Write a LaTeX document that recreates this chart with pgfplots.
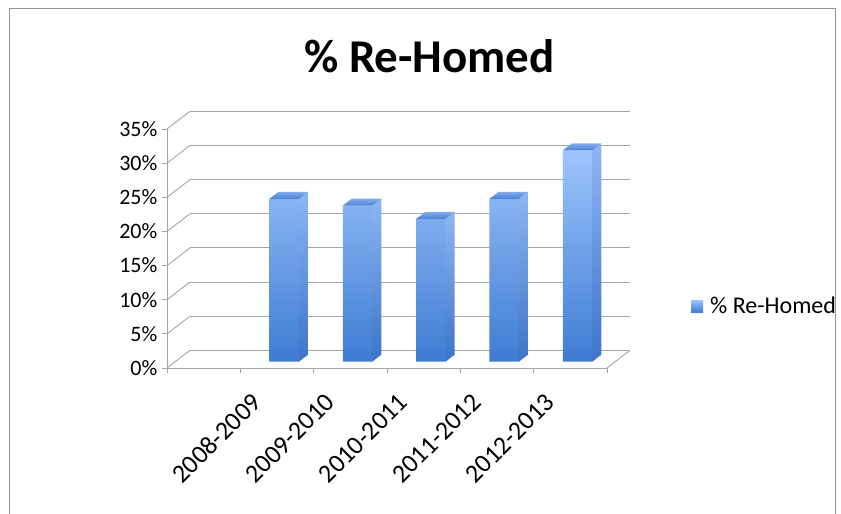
\documentclass[border=0pt]{standalone}
\usepackage{pgfplots}
\pgfplotsset{compat=1.18}
\usepackage{fontspec}
\setmainfont{Carlito}
\definecolor{gridgray}{RGB}{165,165,165}
\definecolor{barlight}{RGB}{157,196,252}
\definecolor{bardark}{RGB}{62,124,210}
\definecolor{sidelight}{RGB}{142,182,242}
\definecolor{sidedark}{RGB}{60,116,200}
\definecolor{toplight}{RGB}{130,172,238}
\definecolor{topdark}{RGB}{74,128,212}
\begin{document}
\begin{tikzpicture}
\useasboundingbox (0pt,0pt) rectangle (841pt,514pt);
\draw[gray!85, line width=1pt] (9pt,0pt) -- (9pt,505pt) -- (835pt,505pt) -- (835pt,0pt);
\node[anchor=base, font=\bfseries\fontsize{47}{47}\selectfont] at (429.5pt,441pt) {\% Re-Homed};

% back wall
\begin{axis}[at={(190pt,163.7pt)}, anchor=south west, scale only axis,
  width=440pt, height=239pt, xmin=0, xmax=6, ymin=0, ymax=35,
  axis line style={draw=none}, xtick=\empty, ytick={0,5,...,35}, yticklabels={},
  major tick length=0pt, ymajorgrids, grid style={gridgray, line width=0.9pt}]
\end{axis}

% front plane
\begin{axis}[at={(167pt,146pt)}, anchor=south west, scale only axis,
  width=440pt, height=239pt, xmin=0, xmax=6, ymin=0, ymax=35,
  axis lines*=left, axis line style={draw=gridgray, line width=0.9pt},
  tick style={gridgray, line width=0.9pt}, tick align=outside,
  major tick length=5.5pt,
  ytick={0,5,...,35},
  yticklabel={\pgfmathprintnumber{\tick}\%},
  yticklabel style={font=\fontsize{22}{22}\selectfont, inner sep=0pt, xshift=-4pt},
  /pgf/number format/assume math mode=true,
  xtick={0,...,6}, xticklabels={},
  extra x ticks={0.5,1.5,2.5,3.5,4.5},
  extra x tick labels={2008-2009,2009-2010,2010-2011,2011-2012,2012-2013},
  extra x tick style={major tick length=0pt,
    xticklabel style={font=\fontsize{26}{26}\selectfont, inner sep=0pt,
      xshift=53pt, yshift=-30pt, rotate=45, anchor=east}},
  clip=false]
\pgfplotsinvokeforeach{0,5,...,35}{\draw[gridgray, line width=0.9pt] (axis cs:0,#1) -- ++(23pt,17.7pt);}
\draw[gridgray, line width=0.9pt] (axis cs:6,0) -- ++(23pt,17.7pt);
\end{axis}

% bars plane
\begin{axis}[at={(175.2pt,152.3pt)}, anchor=south west, scale only axis,
  width=440pt, height=239pt, xmin=0, xmax=6, ymin=0, ymax=35,
  hide axis, clip=false,
  legend style={at={(1.1655,0.233)}, anchor=west, draw=none, fill=none,
    font=\fontsize{24}{24}\selectfont, legend cell align=left}]
\addplot[ybar, bar width=29.5pt, bar shift=-1pt, draw=none,
  top color=barlight, bottom color=bardark,
  legend image code/.code={\shade[draw=none, top color=barlight,bottom color=bardark] (0pt,-6pt) rectangle (12pt,6pt);}]
  coordinates {(1.5,23.85) (2.5,22.86) (3.5,20.9) (4.5,23.85) (5.5,30.94)};
\addlegendentry{\hspace{5pt}\% Re-Homed}
\addplot[forget plot, only marks, scatter, mark=*, mark size=0pt,
  mark options={draw=none, fill=none},
  visualization depends on={rawy \as \barv},
  scatter/@pre marker code/.code={%
    \pgfmathsetmacro{\hh}{\barv*239/35}%
    \shade[draw=none, top color=sidelight, bottom color=sidedark] (13.75pt,0pt) -- (13.75pt,-\hh pt) -- (22.75pt,-\hh pt+7pt) -- (22.75pt,7pt) -- cycle;
    \shade[draw=none, top color=toplight, bottom color=topdark] (-15.75pt,0pt) -- (13.75pt,0pt) -- (22.75pt,7pt) -- (-6.75pt,7pt) -- cycle;
  },
  scatter/@post marker code/.code={}]
  coordinates {(1.5,23.85) (2.5,22.86) (3.5,20.9) (4.5,23.85) (5.5,30.94)};
\end{axis}
\end{tikzpicture}
\end{document}
